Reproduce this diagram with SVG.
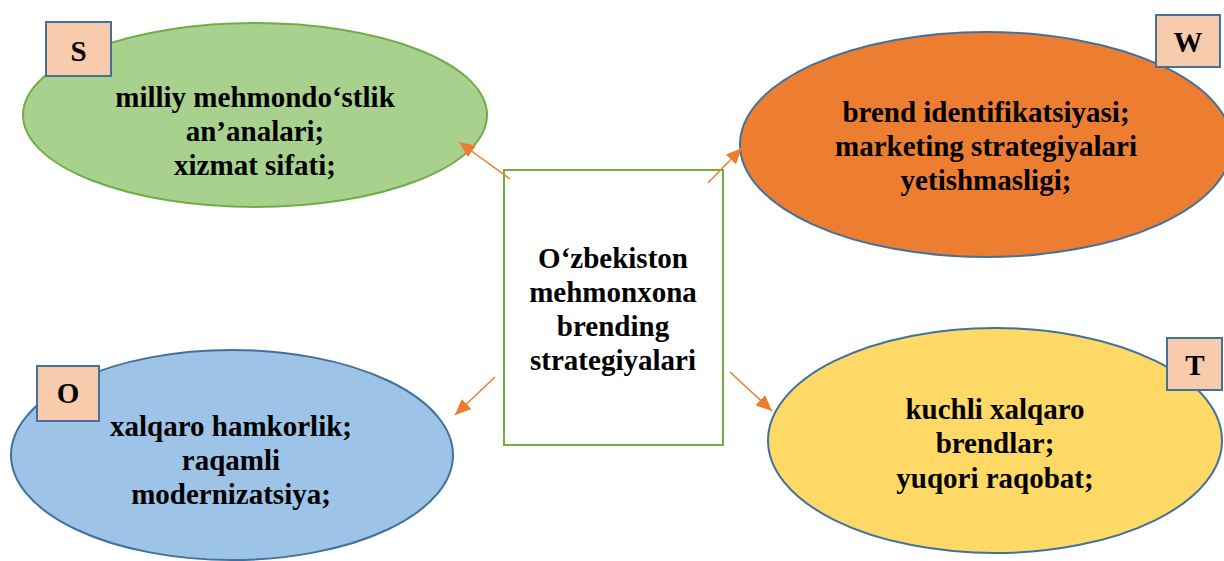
<svg xmlns="http://www.w3.org/2000/svg" width="1224" height="561" viewBox="0 0 1224 561">
<defs>
<style>
.t{font-weight:bold;font-size:29px;fill:#000;text-anchor:middle}
.lab{fill:#F8CBAD;stroke:#41719C;stroke-width:2}
.con{stroke:#ED7D31;stroke-width:1.5;fill:none;marker-end:url(#ah)}
</style>
<marker id="ah" markerUnits="userSpaceOnUse" markerWidth="18" markerHeight="14" refX="16" refY="7" orient="auto" viewBox="0 0 18 14">
<path d="M0,0 L16,7 L0,14 Z" fill="#ED7D31"/>
</marker>
</defs>
<rect width="1224" height="561" fill="#fff"/>
<g font-family="Liberation Serif" font-weight="bold">
<g id="node-S">
<ellipse cx="255" cy="115" rx="232" ry="92" fill="#A9D18E" stroke="#70AD47" stroke-width="2"/>
<rect class="lab" x="46" y="22" width="65" height="54"/>
<text class="t" x="78.5" y="61" font-size="27">S</text>
<text class="t" x="255" y="107">milliy mehmondo‘stlik</text>
<text class="t" x="255" y="141">an’analari;</text>
<text class="t" x="255" y="175">xizmat sifati;</text>
</g>
<g id="node-W">
<ellipse cx="986" cy="144.5" rx="246" ry="112.5" fill="#ED7D31" stroke="#41719C" stroke-width="2"/>
<rect class="lab" x="1156" y="15" width="64" height="52"/>
<text class="t" x="1188" y="52" font-size="27">W</text>
<text class="t" x="986" y="122">brend identifikatsiyasi;</text>
<text class="t" x="986" y="156">marketing strategiyalari</text>
<text class="t" x="986" y="190">yetishmasligi;</text>
</g>
<g id="node-O">
<ellipse cx="232" cy="455" rx="221" ry="105" fill="#9DC3E6" stroke="#41719C" stroke-width="2"/>
<rect class="lab" x="37" y="366" width="62" height="55"/>
<text class="t" x="68" y="403" font-size="27">O</text>
<text class="t" x="231" y="436">xalqaro hamkorlik;</text>
<text class="t" x="231" y="470">raqamli</text>
<text class="t" x="231" y="504">modernizatsiya;</text>
</g>
<g id="node-T">
<ellipse cx="995" cy="440.5" rx="227" ry="112.5" fill="#FFD966" stroke="#41719C" stroke-width="2"/>
<rect class="lab" x="1167" y="338" width="55" height="52"/>
<text class="t" x="1195" y="375" font-size="27">T</text>
<text class="t" x="995" y="419">kuchli xalqaro</text>
<text class="t" x="995" y="453">brendlar;</text>
<text class="t" x="995" y="488">yuqori raqobat;</text>
</g>
<g id="node-center">
<rect x="504" y="170" width="219" height="275" fill="#fff" stroke="#70AD47" stroke-width="2"/>
<text class="t" x="613" y="268">O‘zbekiston</text>
<text class="t" x="613" y="302">mehmonxona</text>
<text class="t" x="613" y="336">brending</text>
<text class="t" x="613" y="370">strategiyalari</text>
</g>
</g>
<g id="connectors">
<line class="con" x1="510" y1="179" x2="459" y2="142"/>
<line class="con" x1="708" y1="183" x2="742" y2="148"/>
<line class="con" x1="495" y1="377" x2="455" y2="415"/>
<line class="con" x1="730" y1="372" x2="772" y2="411"/>
</g>
</svg>
